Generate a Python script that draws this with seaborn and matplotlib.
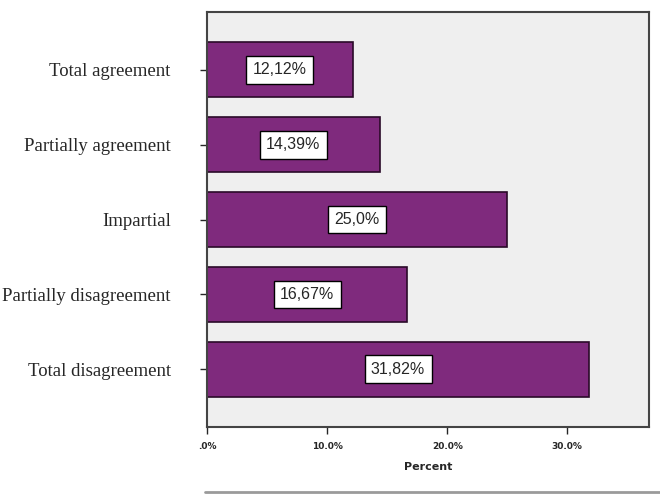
import matplotlib
matplotlib.use("Agg")
import matplotlib.pyplot as plt
import seaborn as sns
import pandas as pd
from matplotlib.lines import Line2D

categories = ["Total agreement", "Partially agreement", "Impartial",
              "Partially disagreement", "Total disagreement"]
values = [12.12, 14.39, 25.0, 16.67, 31.82]
value_labels = ["12,12%", "14,39%", "25,0%", "16,67%", "31,82%"]
xtick_vals = [0, 10, 20, 30]
xtick_labels = [".0%", "10.0%", "20.0%", "30.0%"]

df = pd.DataFrame({"category": categories, "percent": values})

sns.set_style("white")
fig = plt.figure(figsize=(6.6, 4.96), dpi=100)
ax = fig.add_axes([0.3136, 0.139, 0.6697, 0.8367])
ax.set_facecolor("#efefef")

sns.barplot(data=df, y="category", x="percent", orient="h", color="#7f2a7d",
            saturation=1, width=0.73, edgecolor="#2a0a28", linewidth=1.2, ax=ax)

for i, (v, lab) in enumerate(zip(values, value_labels)):
    ax.text(v / 2, i, lab, ha="center", va="center", fontsize=11.5,
            family="Liberation Sans",
            bbox=dict(boxstyle="square,pad=0.4", fc="white", ec="black", lw=1.0))

ax.set_xlim(0, 36.8)
ax.set_ylim(4.77, -0.77)
ax.set_xticks(xtick_vals)
ax.set_xticklabels(xtick_labels, fontsize=6.5, fontweight="bold", family="DejaVu Sans")
ax.set_xlabel("Percent", fontsize=8, fontweight="bold", labelpad=8)
ax.set_ylabel("")
ax.tick_params(axis="y", length=5, width=1, pad=21, direction="out", left=True,
               labelsize=13.5)
ax.tick_params(axis="x", length=5, width=1, pad=6, direction="out", bottom=True)
for lab in ax.get_yticklabels():
    lab.set_family("Liberation Serif")
for s in ax.spines.values():
    s.set_color("#444444")
    s.set_linewidth(1.5)

fig.add_artist(Line2D([0.31, 1.0], [0.008, 0.008], color="#9a9a9a", lw=2,
                      transform=fig.transFigure))

fig.savefig("out.png", dpi=100)
